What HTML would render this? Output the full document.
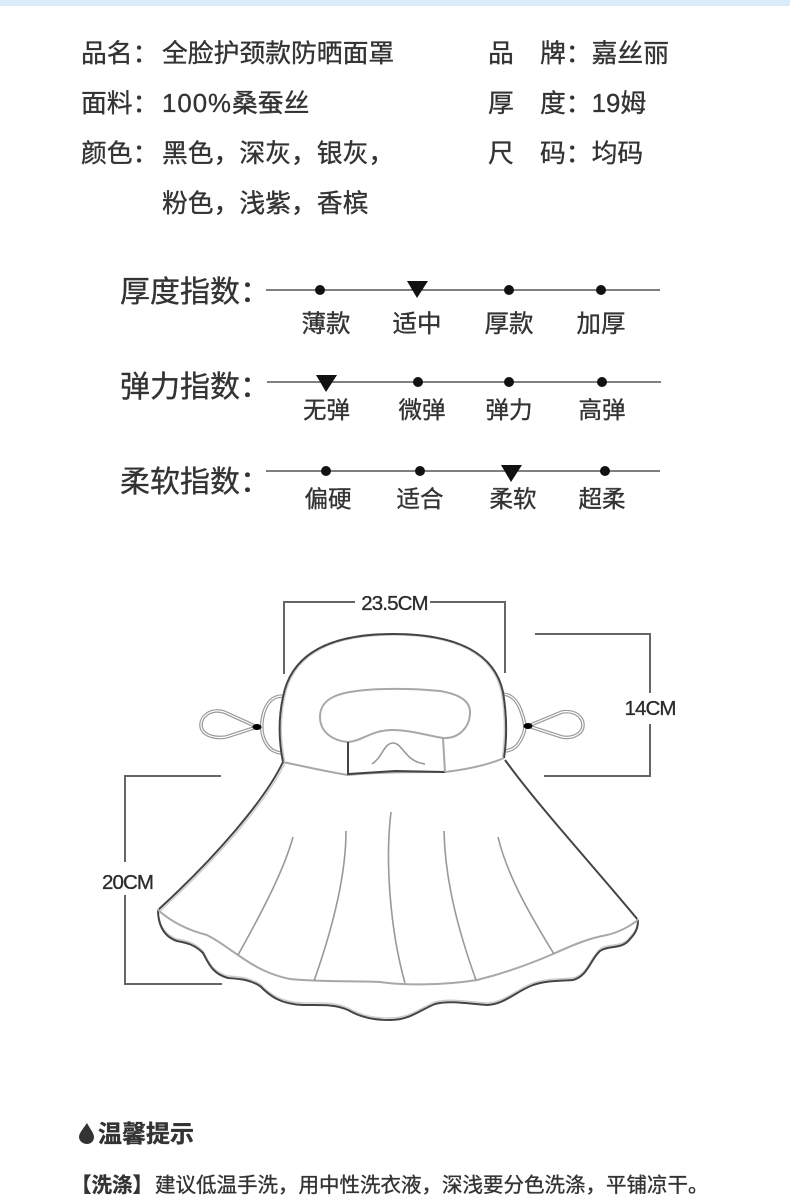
<!DOCTYPE html>
<html lang="zh">
<head>
<meta charset="utf-8">
<style>
html,body{margin:0;padding:0;background:#fff;width:790px;height:1200px;overflow:hidden}
svg{display:block}
text{font-family:"Liberation Sans","Noto Sans CJK SC",sans-serif;fill:#333;stroke:#333;stroke-width:.35px}
.c{font-family:"Noto Sans CJK SC",sans-serif}
.t{font-size:25.8px}
.h{font-size:30px}
.o{font-size:24.5px;text-anchor:middle}
.o2{font-size:23.5px;text-anchor:middle}
.d{font-size:20.5px;letter-spacing:-.9px;fill:#2b2b2b;text-anchor:middle}
.k{stroke:#444;stroke-width:2;fill:none}
.m{stroke:#666;stroke-width:2;fill:none}
.g{stroke:#a8a8a8;stroke-width:2;fill:none}
.lt{stroke:#ccc;stroke-width:1.4;fill:none}
.p{stroke:#999;stroke-width:1.6;fill:none}
.r1{stroke:#999;stroke-width:3.6;fill:none}
.r2{stroke:#fff;stroke-width:1.2;fill:none}
.b{filter:blur(.35px)}
</style>
</head>
<body>
<svg width="790" height="1200" viewBox="0 0 790 1200" xmlns="http://www.w3.org/2000/svg">
<rect x="0" y="0" width="790" height="6" fill="#dcebf8"/>

<g class="t">
<text class="c" x="81" y="62">品名：</text>
<text class="c" x="162" y="62">全脸护颈款防晒面罩</text>
<text class="c" x="488" y="62">品</text>
<text class="c" x="540" y="62">牌：嘉丝丽</text>
<text class="c" x="81" y="112">面料：</text>
<text x="162" y="112" letter-spacing="1">100%<tspan class="c" letter-spacing="0">桑蚕丝</tspan></text>
<text class="c" x="488" y="112">厚</text>
<text x="540" y="112"><tspan class="c">度：</tspan>19<tspan class="c">姆</tspan></text>
<text class="c" x="81" y="162">颜色：</text>
<text class="c" x="162" y="162">黑色，深灰，银灰，</text>
<text class="c" x="488" y="162">尺</text>
<text class="c" x="540" y="162">码：均码</text>
<text class="c" x="162" y="212">粉色，浅紫，香槟</text>
</g>

<g class="h">
<text class="c" x="120" y="302">厚度指数：</text>
<text class="c" x="120" y="397">弹力指数：</text>
<text class="c" x="120" y="492">柔软指数：</text>
</g>

<g stroke="#333" stroke-width="1.3">
<line x1="266" y1="290" x2="660" y2="290"/>
<line x1="267" y1="382" x2="661" y2="382"/>
<line x1="266" y1="471" x2="660" y2="471"/>
</g>
<g fill="#111">
<circle cx="320" cy="290" r="5"/><circle cx="509" cy="290" r="5"/><circle cx="601" cy="290" r="5"/>
<polygon points="407,281 428,281 417,298"/>
<polygon points="316,375 337,375 326,392"/>
<circle cx="418" cy="382" r="5"/><circle cx="509" cy="382" r="5"/><circle cx="602" cy="382" r="5"/>
<circle cx="326" cy="471" r="5"/><circle cx="420" cy="471" r="5"/><circle cx="605" cy="471" r="5"/>
<polygon points="501,465 522,465 511,482"/>
</g>
<g class="o">
<text class="c" x="326" y="332">薄款</text><text class="c" x="417" y="332">适中</text><text class="c" x="509" y="332">厚款</text><text class="c" x="601" y="332">加厚</text>
</g>
<g class="o2">
<text class="c" x="326.500" y="418">无弹</text><text class="c" x="422" y="418">微弹</text><text class="c" x="509" y="418">弹力</text><text class="c" x="602" y="418">高弹</text>
<text class="c" x="328" y="507">偏硬</text><text class="c" x="420" y="507">适合</text><text class="c" x="513" y="507">柔软</text><text class="c" x="602" y="507">超柔</text>
</g>

<g class="b">
<!-- dimension lines -->
<path class="m" d="M284 674V602H355M430 602H505V673"/>
<path class="m" d="M535 634H650V693M650 724V776H544"/>
<path class="m" d="M221 776H125V862M125 895V984H222"/>
<text class="d" x="394.500" y="610">23.5CM</text>
<text class="d" x="650" y="715">14CM</text>
<text class="d" x="127.500" y="889">20CM</text>

<!-- loops and ears -->
<path class="r1" d="M283 696C272 696 267 703 264 712C261 722 261 729 263 736C266 746 272 752 281 753"/>
<path class="r2" d="M283 696C272 696 267 703 264 712C261 722 261 729 263 736C266 746 272 752 281 753"/>
<path class="r1" d="M257 727L224 712C211 708 201 716 201 725C201 734 212 739 226 737L257 727Z"/>
<path class="r2" d="M257 727L224 712C211 708 201 716 201 725C201 734 212 739 226 737L257 727Z"/>
<path class="r1" d="M503 694C514 695 519 704 522 714C525 722 526 729 523 735C519 745 514 750 505 751"/>
<path class="r2" d="M503 694C514 695 519 704 522 714C525 722 526 729 523 735C519 745 514 750 505 751"/>
<path class="r1" d="M528 726L562 712C575 710 583 717 583 725C583 733 574 739 562 737L528 726Z"/>
<path class="r2" d="M528 726L562 712C575 710 583 717 583 725C583 733 574 739 562 737L528 726Z"/>
<ellipse cx="257" cy="727" rx="4.500" ry="3" fill="#000"/>
<ellipse cx="528" cy="726" rx="4.500" ry="3" fill="#000"/>

<!-- head -->
<path d="M283 762C279 742 278 720 283 697C291 655 328 634 393 634C460 634 495 655 503 692C507 716 507 738 504 758" fill="#fff" stroke="none"/>
<path class="lt" transform="translate(393 700) scale(.985) translate(-393 -700)" d="M283 762C279 742 278 720 283 697C291 655 328 634 393 634C460 634 495 655 503 692C507 716 507 738 504 758"/>
<path class="k" d="M283 762C279 742 278 720 283 697C291 655 328 634 393 634C460 634 495 655 503 692C507 716 507 738 504 758"/>
<path class="g" d="M283 762C320 770 335 773 348 775C380 772 410 772 445 772C470 769 490 764 504 758"/>
<path class="g" d="M348 742C334 741 320 733 320 717C320 702 332 695 350 692C375 688 410 688 440 691C458 694 470 700 470 712C470 728 458 739 443 738C425 735 410 730 392 730C372 730 362 741 348 742"/>
<path class="k" d="M348 742V774L395 771L445 772"/>
<path class="g" d="M443 738L445 772"/>
<path class="p" d="M372 764C382 758 384 743 393 743C403 743 404 761 425 764"/>

<!-- skirt -->
<path class="lt" transform="translate(2 1)" d="M283 762C265 800 215 858 158 910"/>
<path class="k" d="M283 762C265 800 215 858 158 910"/>
<path class="k" d="M505 760C540 808 590 862 638 920"/>
<path class="lt" transform="translate(0 -2)" d="M158 910C158 922 162 936 177 941C188 943 195 945 203 953C208 962 212 974 228 978C243 979 250 980 260 986C270 996 280 1004 303 1005C320 1005 335 1004 348 1010C362 1018 375 1020 390 1020C410 1020 420 1010 435 1004C450 1000 470 1004 487 1005C505 1004 515 992 533 985C548 980 562 981 573 980C588 976 590 960 600 951C608 945 622 950 630 939C637 932 638 926 638 920"/>
<path class="k" d="M158 910C158 922 162 936 177 941C188 943 195 945 203 953C208 962 212 974 228 978C243 979 250 980 260 986C270 996 280 1004 303 1005C320 1005 335 1004 348 1010C362 1018 375 1020 390 1020C410 1020 420 1010 435 1004C450 1000 470 1004 487 1005C505 1004 515 992 533 985C548 980 562 981 573 980C588 976 590 960 600 951C608 945 622 950 630 939C637 932 638 926 638 920"/>
<path class="g" d="M158 910C175 925 195 932 207 935C222 943 230 950 238 955C255 967 270 975 290 979C320 982 360 981 380 982C400 985 440 986 477 980C505 973 530 964 553 954C575 944 590 938 607 935C620 932 630 926 638 920"/>
<g class="p">
<path d="M293 837C284 870 262 912 238 955"/>
<path d="M346 831C346 875 332 930 314 981"/>
<path d="M391 812C385 860 390 930 405 983"/>
<path d="M444 831C445 880 458 930 476 980"/>
<path d="M498 837C507 875 530 915 554 954"/>
</g>
</g>

<!-- footer -->
<path d="M87 1123C83 1129 79 1133 79 1137C79 1141 83 1144 87 1144C91 1144 94 1141 94 1137C94 1133 90 1129 87 1123Z" fill="#333"/>
<text class="c" x="98" y="1142" font-size="24" font-weight="700">温馨提示</text>
<text class="c" x="71" y="1192" font-size="20.500" font-weight="700">【洗涤】</text>
<text class="c" x="155" y="1192" font-size="20.500">建议低温手洗，用中性洗衣液，深浅要分色洗涤，平铺凉干。</text>
</svg>
</body>
</html>
